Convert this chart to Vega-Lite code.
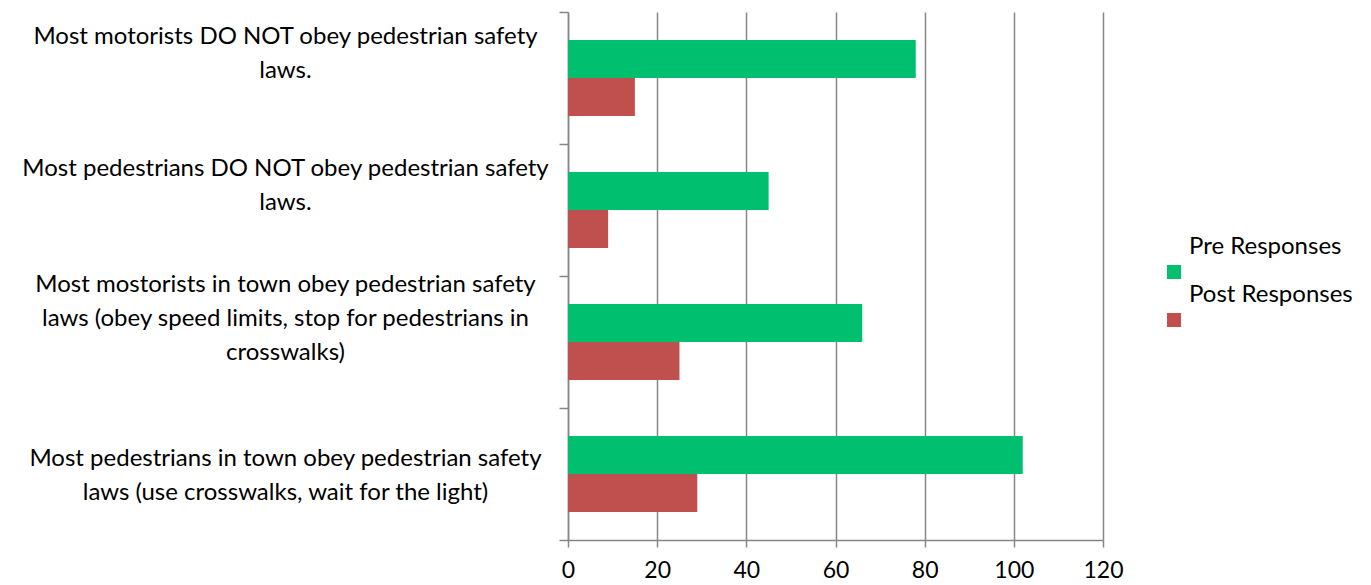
{
  "$schema": "https://vega.github.io/schema/vega-lite/v6.json",
  "width": 535,
  "height": 528,
  "autosize": {"type": "none"},
  "padding": {"left": 568, "top": 12, "right": 268, "bottom": 45},
  "background": "white",
  "config": {"view": {"stroke": null}, "font": "Lato"},
  "data": {
    "values": [
      {"statement": "Most motorists DO NOT obey pedestrian safety|laws.", "series": "Pre Responses", "value": 78},
      {"statement": "Most motorists DO NOT obey pedestrian safety|laws.", "series": "Post Responses", "value": 15},
      {"statement": "Most pedestrians DO NOT obey pedestrian safety|laws.", "series": "Pre Responses", "value": 45},
      {"statement": "Most pedestrians DO NOT obey pedestrian safety|laws.", "series": "Post Responses", "value": 9},
      {"statement": "Most mostorists in town obey pedestrian safety|laws (obey speed limits, stop for pedestrians in|crosswalks)", "series": "Pre Responses", "value": 66},
      {"statement": "Most mostorists in town obey pedestrian safety|laws (obey speed limits, stop for pedestrians in|crosswalks)", "series": "Post Responses", "value": 25},
      {"statement": "Most pedestrians in town obey pedestrian safety|laws (use crosswalks, wait for the light)", "series": "Pre Responses", "value": 102},
      {"statement": "Most pedestrians in town obey pedestrian safety|laws (use crosswalks, wait for the light)", "series": "Post Responses", "value": 29}
    ]
  },
  "resolve": {"axis": {"y": "independent"}},
  "layer": [
    {
      "mark": {"type": "bar"},
      "encoding": {
        "y": {
          "field": "statement",
          "type": "nominal",
          "sort": null,
          "scale": {"paddingInner": 0, "paddingOuter": 0},
          "axis": {
            "orient": "left",
            "title": null,
            "tickBand": "extent",
            "domainColor": "#868686",
            "domainWidth": 1.5,
            "tickColor": "#868686",
            "tickSize": 9,
            "tickWidth": 1.5,
            "labelAlign": "center",
            "labelBaseline": "middle",
            "labelPadding": 274,
            "labelLimit": 0,
            "labelFontSize": 24,
            "labelLineHeight": 34,
            "labelColor": "black",
            "labelOffset": -42,
            "labelExpr": "(indexof(datum.label, 'speed') >= 0 || indexof(datum.label, 'light') >= 0) ? '' : split(datum.label, '|')",
            "grid": false
          }
        },
        "yOffset": {
          "field": "series",
          "type": "nominal",
          "sort": ["Pre Responses", "Post Responses"],
          "scale": {"paddingInner": 0, "paddingOuter": 0.737}
        },
        "x": {
          "field": "value",
          "type": "quantitative",
          "scale": {"domain": [0, 120], "nice": false},
          "axis": {
            "title": null,
            "values": [0, 20, 40, 60, 80, 100, 120],
            "grid": true,
            "gridColor": "#868686",
            "gridWidth": 1.5,
            "domainColor": "#868686",
            "domainWidth": 1.5,
            "tickColor": "#868686",
            "tickSize": 7,
            "tickWidth": 1.5,
            "labelFontSize": 23,
            "labelColor": "black",
            "labelPadding": 12,
            "labelFlush": false
          }
        },
        "color": {
          "field": "series",
          "type": "nominal",
          "sort": ["Pre Responses", "Post Responses"],
          "scale": {"domain": ["Pre Responses", "Post Responses"], "range": ["#00BF6F", "#C0504D"]},
          "legend": {
            "orient": "none",
            "legendX": 594,
            "legendY": 248,
            "title": null,
            "symbolType": "square",
            "symbolSize": 196,
            "symbolStrokeWidth": 0,
            "symbolOpacity": 1,
            "labelFontSize": 24,
            "labelOffset": 3,
            "labelLimit": 0,
            "labelColor": "black",
            "rowPadding": 4,
            "padding": 0,
            "encode": {"labels": {"update": {"dy": {"value": -25}}}}
          }
        }
      }
    },
    {
      "mark": {"type": "bar", "opacity": 0},
      "encoding": {
        "y": {
          "field": "statement",
          "type": "nominal",
          "sort": null,
          "axis": {
            "orient": "left",
            "title": null,
            "tickBand": "extent",
            "domain": false,
            "tickSize": 9,
            "tickOpacity": 0,
            "labelAlign": "center",
            "labelBaseline": "middle",
            "labelPadding": 274,
            "labelLimit": 0,
            "labelFontSize": 24,
            "labelLineHeight": 34,
            "labelColor": "black",
            "labelOffset": -58,
            "labelExpr": "indexof(datum.label, 'speed') >= 0 ? split(datum.label, '|') : ''",
            "grid": false
          }
        },
        "x": {
          "field": "value",
          "type": "quantitative",
          "scale": {"domain": [0, 120], "nice": false},
          "axis": {
            "title": null,
            "values": [0, 20, 40, 60, 80, 100, 120],
            "grid": true,
            "gridColor": "#868686",
            "gridWidth": 1.5,
            "domainColor": "#868686",
            "domainWidth": 1.5,
            "tickColor": "#868686",
            "tickSize": 7,
            "tickWidth": 1.5,
            "labelFontSize": 23,
            "labelColor": "black",
            "labelPadding": 12,
            "labelFlush": false
          }
        }
      }
    },
    {
      "mark": {"type": "bar", "opacity": 0},
      "encoding": {
        "y": {
          "field": "statement",
          "type": "nominal",
          "sort": null,
          "axis": {
            "orient": "left",
            "title": null,
            "tickBand": "extent",
            "domain": false,
            "tickSize": 9,
            "tickOpacity": 0,
            "labelAlign": "center",
            "labelBaseline": "middle",
            "labelPadding": 274,
            "labelLimit": 0,
            "labelFontSize": 24,
            "labelLineHeight": 34,
            "labelColor": "black",
            "labelOffset": -16,
            "labelExpr": "indexof(datum.label, 'light') >= 0 ? split(datum.label, '|') : ''",
            "grid": false
          }
        },
        "x": {
          "field": "value",
          "type": "quantitative",
          "scale": {"domain": [0, 120], "nice": false},
          "axis": {
            "title": null,
            "values": [0, 20, 40, 60, 80, 100, 120],
            "grid": true,
            "gridColor": "#868686",
            "gridWidth": 1.5,
            "domainColor": "#868686",
            "domainWidth": 1.5,
            "tickColor": "#868686",
            "tickSize": 7,
            "tickWidth": 1.5,
            "labelFontSize": 23,
            "labelColor": "black",
            "labelPadding": 12,
            "labelFlush": false
          }
        }
      }
    }
  ]
}
